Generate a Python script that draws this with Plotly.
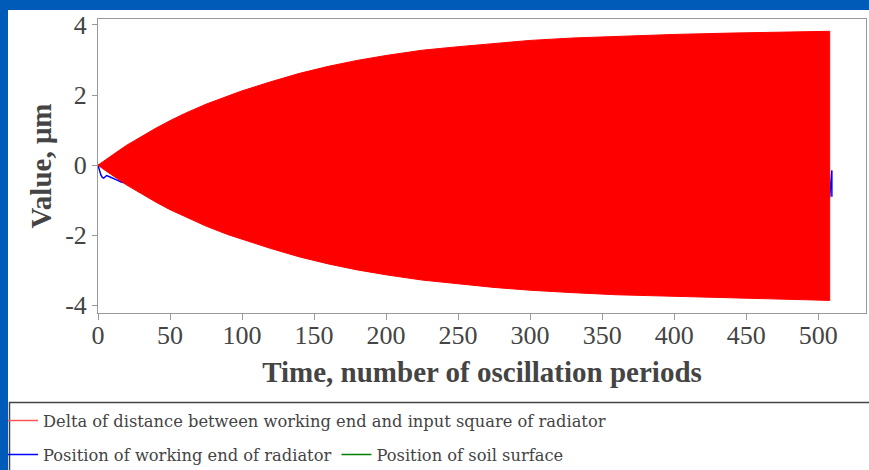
import plotly.graph_objects as go

# Envelope of the oscillating delta signal (µm) vs. oscillation periods
env_t = [0, 5, 10, 15, 20, 30, 40, 50, 60, 75, 90, 100, 120, 140, 160, 180,
         200, 225, 250, 275, 300, 330, 360, 400, 440, 480, 508]
env_upper = [0.0, 0.15, 0.30, 0.43, 0.57, 0.82, 1.05, 1.27, 1.47, 1.74, 1.98,
             2.12, 2.38, 2.62, 2.82, 2.99, 3.13, 3.28, 3.38, 3.48, 3.56, 3.63,
             3.68, 3.73, 3.77, 3.80, 3.82]
env_lower = [0.0, -0.15, -0.30, -0.43, -0.57, -0.82, -1.05, -1.27, -1.47, -1.74,
             -1.98, -2.12, -2.38, -2.62, -2.82, -2.99, -3.13, -3.28, -3.39,
             -3.49, -3.57, -3.64, -3.70, -3.75, -3.79, -3.83, -3.86]

# Working end of radiator position (µm)
work_t = [0, 1, 2, 3, 4, 5, 6, 8, 10, 12, 14, 16, 18, 22, 30, 60, 150, 300,
          450, 508, 509.5, 509.5]
work_y = [0.0, -0.15, -0.28, -0.35, -0.37, -0.33, -0.30, -0.33, -0.36, -0.40,
          -0.44, -0.48, -0.50, -0.52, -0.60, -0.80, -0.90, -0.90, -0.90, -0.90,
          -0.15, -0.90]

# Soil surface position (µm)
soil_t = [0, 508]
soil_y = [0.0, 0.0]

y_ticks = [-4, -2, 0, 2, 4]
y_tick_text = ["-4", "-2", "0", "2", "4"]
x_ticks = [0, 50, 100, 150, 200, 250, 300, 350, 400, 450, 500]

name_delta = "Delta of distance between working end and input square of radiator"
name_work = "Position of working end of radiator"
name_soil = "Position of soil surface"

RED = "#ff0000"
BLUE = "#0000ff"
GREEN = "#008000"
TXT = "#444444"

fig = go.Figure()

fig.add_trace(go.Scatter(x=work_t, y=work_y, mode="lines", name=name_work,
                         line=dict(color=BLUE, width=1.5), legend="legend2",
                         legendrank=1))
fig.add_trace(go.Scatter(x=soil_t, y=soil_y, mode="lines", name=name_soil,
                         line=dict(color=GREEN, width=1.5), legend="legend2",
                         legendrank=2))

# filled oscillation band: upper envelope forward, lower envelope back
band_x = env_t + env_t[::-1]
band_y = env_upper + env_lower[::-1]
fig.add_trace(go.Scatter(x=band_x, y=band_y, mode="lines", fill="toself",
                         fillcolor=RED, line=dict(color=RED, width=1),
                         showlegend=False, legendgroup="delta", hoverinfo="skip"))
fig.add_trace(go.Scatter(x=[None], y=[None], mode="lines", name=name_delta,
                         line=dict(color="#ff5555", width=1.5), legendgroup="delta",
                         legend="legend"))

W, H = 869, 470
L, R, T, B = 98, 3, 19, 157
pw, ph = W - L - R, H - T - B


def px(x):
    return (x - L) / pw


def py(y):
    return (H - B - y) / ph


serif = "Liberation Serif"

fig.update_layout(
    width=W, height=H,
    margin=dict(l=L, r=R, t=T, b=B, autoexpand=False),
    paper_bgcolor="#005bb8",
    plot_bgcolor="white",
    shapes=[
        dict(type="rect", xref="paper", yref="paper", x0=px(8), x1=px(875),
             y0=py(480), y1=py(10), fillcolor="white", line=dict(width=0),
             layer="below"),
        dict(type="rect", xref="paper", yref="paper", x0=px(9.5), x1=px(880),
             y0=py(490), y1=py(402.5), fillcolor="rgba(0,0,0,0)",
             line=dict(color="#444444", width=1.5)),
    ],
    xaxis=dict(range=[0, 533.2], tickvals=x_ticks, showgrid=False, zeroline=False,
               showline=True, linecolor="#999999", linewidth=1, mirror=True,
               ticks="outside", ticklen=6, tickcolor="#999999",
               ticklabelstandoff=-7,
               tickfont=dict(family=serif, size=26, color=TXT),
               title=dict(text="<b>Time, number of oscillation periods</b>",
                          font=dict(family=serif, size=29, color=TXT),
                          standoff=12)),
    yaxis=dict(range=[-4.22, 4.171], tickvals=y_ticks, ticktext=y_tick_text,
               showgrid=False, zeroline=False,
               showline=True, linecolor="#999999", linewidth=1, mirror=True,
               ticks="outside", ticklen=5, tickcolor="#999999",
               tickfont=dict(family=serif, size=26, color=TXT),
               title=dict(text="<b>Value, μm</b>",
                          font=dict(family=serif, size=29, color=TXT),
                          standoff=4)),
    legend=dict(orientation="h", x=px(3), xanchor="left", y=py(421),
                yanchor="middle", bgcolor="rgba(0,0,0,0)", borderwidth=0,
                font=dict(family="DejaVu Serif", size=16.3, color=TXT)),
    legend2=dict(orientation="h", x=px(3), xanchor="left", y=py(455),
                 yanchor="middle", bgcolor="rgba(0,0,0,0)", borderwidth=0,
                 font=dict(family="DejaVu Serif", size=16.3, color=TXT)),
)

fig.write_html("out.html")
